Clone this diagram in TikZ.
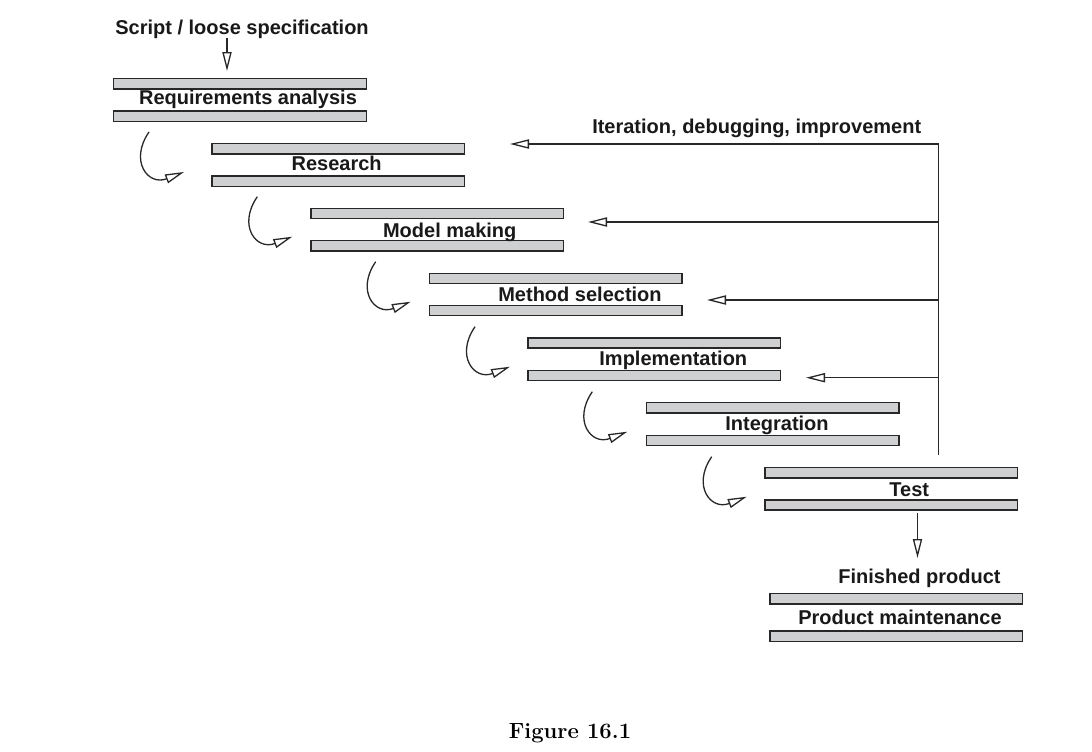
\documentclass[tikz,border=0pt]{standalone}
\usepackage{fontspec}
\newfontfamily\labfont{Liberation Sans}
\usetikzlibrary{arrows.meta}
\definecolor{barfill}{RGB}{207,208,209}
\definecolor{ink}{RGB}{40,40,40}
\definecolor{txt}{RGB}{25,25,25}
\begin{document}
\begin{tikzpicture}[x=0.5pt,y=-0.5pt,
  bar/.style={draw=ink, fill=barfill, line width=0.7pt, minimum width=126.3pt,
              minimum height=5.1pt, inner sep=0pt, outer sep=0pt},
  lab/.style={font=\labfont\bfseries\fontsize{10}{12}\selectfont, text=txt,
              anchor=base, inner sep=0pt},
  conn/.style={draw=ink, line width=0.65pt},
  arr/.style={conn, -{Triangle[open,length=9.5pt,width=4.6pt]}},
  capt/.style={font=\bfseries\fontsize{11}{13}\selectfont, anchor=base, inner sep=0pt}
]
\useasboundingbox (0,0) rectangle (1092,751);

% title and entry arrow
\node[lab] (script) at (242,34.3) {Script / loose specification};
\coordinate (s0) at (227,38);
\coordinate (s1) at (227,71);
\draw[arr] (s0) -- (s1);

% stages: bars and labels
\node[bar] (b1t) at (240,83.8) {};
\node[bar] (b1b) at (240,116.2) {};
\node[lab] (t1) at (248,104.3) {Requirements analysis};

\node[bar] (b2t) at (338.3,148.7) {};
\node[bar] (b2b) at (338.3,181.2) {};
\node[lab] (t2) at (336.7,170.7) {Research};

\node[bar] (b3t) at (437.2,213.3) {};
\node[bar] (b3b) at (437.2,245.7) {};
\node[lab] (t3) at (449.7,237.3) {Model making};

\node[bar] (b4t) at (555.5,278.3) {};
\node[bar] (b4b) at (555.5,310.5) {};
\node[lab] (t4) at (580,301) {Method selection};

\node[bar] (b5t) at (654.2,343) {};
\node[bar] (b5b) at (654.2,375.5) {};
\node[lab] (t5) at (673.3,365.7) {Implementation};

\node[bar] (b6t) at (772.7,407.8) {};
\node[bar] (b6b) at (772.7,440.3) {};
\node[lab] (t6) at (777,430.7) {Integration};

\node[bar] (b7t) at (891.2,472.8) {};
\node[bar] (b7b) at (891.2,505) {};
\node[lab] (t7) at (909.3,496.7) {Test};

% finished product and maintenance
\coordinate (f0) at (917.5,513);
\coordinate (f1) at (917.5,558);
\draw[arr] (f0) -- (f1);
\node[lab] (fin) at (919.5,583.3) {Finished product};
\node[bar] (b8t) at (896.3,598.8) {};
\node[bar] (b8b) at (896.3,636.2) {};
\node[lab] (t8) at (900,624.3) {Product maintenance};

% curved transition arrows
\foreach \i/\tx/\ty in {1/184/172, 2/292.3/236.7, 3/410.7/301.7,
                        4/510/366.7, 5/627.3/431.7, 6/746.7/496.7}{
  \coordinate (c\i e) at (\tx,\ty);
  \coordinate (c\i s) at ({\tx-35},{\ty-40});
}
\foreach \i in {1,...,6}{
  \draw[arr] (c\i s) .. controls +(-20,29) and +(-36,14) .. (c\i e);
}

% feedback loop
\node[lab] (iter) at (756.7,133.3) {Iteration, debugging, improvement};
\coordinate (fbtop) at (938.7,144);
\coordinate (fbbot) at (938.7,455);
\draw[conn] (fbtop) -- (fbbot);
\coordinate (fb2) at (938.7,222);
\coordinate (fb3) at (938.7,300);
\coordinate (fb4) at (938.7,377.7);
\coordinate (r1) at (510,144);
\coordinate (r2) at (588,222);
\coordinate (r3) at (707,300);
\coordinate (r4) at (806,377.7);
\draw[arr] (fbtop) -- (r1);
\draw[arr] (fb2) -- (r2);
\draw[arr] (fb3) -- (r3);
\draw[arr] (fb4) -- (r4);

% caption
\node[capt] (cap) at (570,738.3) {Figure 16.1};
\end{tikzpicture}
\end{document}
